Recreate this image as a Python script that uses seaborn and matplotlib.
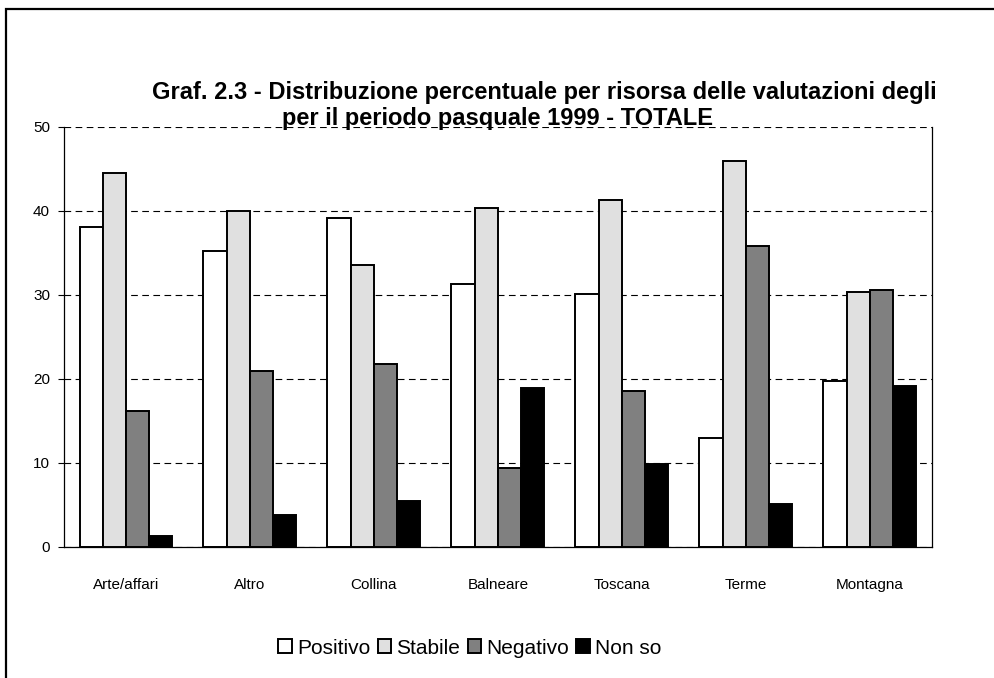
import pandas as pd
import matplotlib.pyplot as plt
import matplotlib.patches as mpatches
import seaborn as sns

# valori (percentuali)
categories = ["Arte/affari", "Altro", "Collina", "Balneare", "Toscana", "Terme", "Montagna"]
series_names = ["Positivo", "Stabile", "Negativo", "Non so"]
positivo = [38.1, 35.2, 39.2, 31.3, 30.1, 13.0, 19.8]
stabile = [44.5, 40.0, 33.6, 40.3, 41.3, 46.0, 30.4]
negativo = [16.2, 20.9, 21.8, 9.4, 18.6, 35.8, 30.6]
non_so = [1.3, 3.8, 5.5, 18.9, 9.9, 5.1, 19.2]
colors = ["#ffffff", "#e0e0e0", "#808080", "#000000"]
y_ticks = [0, 10, 20, 30, 40, 50]

rows = []
for name, vals in zip(series_names, [positivo, stabile, negativo, non_so]):
    for cat, v in zip(categories, vals):
        rows.append({"Risorsa": cat, "Giudizio": name, "Valore": v})
df = pd.DataFrame(rows)

sns.set_style("white")
plt.rcParams['font.family'] = ['Liberation Sans', 'DejaVu Sans']
plt.rcParams['text.color'] = 'black'
plt.rcParams['xtick.color'] = 'black'
plt.rcParams['ytick.color'] = 'black'
plt.rcParams['axes.labelcolor'] = 'black'

fig = plt.figure(figsize=(9.94, 6.78), dpi=100)
ax = fig.add_axes([64 / 994, 1 - 547 / 678, (932 - 64) / 994, (547 - 127) / 678])

sns.barplot(data=df, x="Risorsa", y="Valore", hue="Giudizio", palette=colors,
            saturation=1, edgecolor="black", linewidth=1.4, width=0.75,
            errorbar=None, ax=ax)

ax.set_ylim(0, 50)
ax.set_yticks(y_ticks)
ax.set_xlabel("")
ax.set_ylabel("")
ax.yaxis.grid(True, linestyle=(0, (6, 4)), color="black", linewidth=0.8)
ax.xaxis.grid(False)
ax.set_axisbelow(True)
ax.spines["top"].set_visible(False)
for s in ["left", "right", "bottom"]:
    ax.spines[s].set_color("black")
    ax.spines[s].set_linewidth(0.9)
ax.tick_params(axis="y", length=4, width=0.8, color="black", pad=6, labelsize=11)
ax.tick_params(axis="x", length=0, pad=22, labelsize=11)
ax.yaxis.set_ticks_position("left")

handles, labels = ax.get_legend_handles_labels()
ax.get_legend().remove()
fig.legend(handles, labels, loc="center", bbox_to_anchor=(470 / 994, 1 - 648 / 678),
           ncol=4, frameon=False, fontsize=15, handlelength=0.65, handleheight=0.65,
           handletextpad=0.25, columnspacing=0.35, borderaxespad=0)

fig.text(544 / 994, 1 - 93 / 678,
         "Graf. 2.3 - Distribuzione percentuale per risorsa delle valutazioni degli",
         ha="center", va="center", fontsize=17, fontweight="bold")
fig.text(497 / 994, 1 - 118 / 678, "per il periodo pasquale 1999 - TOTALE",
         ha="center", va="center", fontsize=17, fontweight="bold")

# cornice esterna
fig.patches.append(mpatches.Rectangle((6 / 994, -0.2), 1.2, 1.2 - 9 / 678,
                                      transform=fig.transFigure, fill=False,
                                      edgecolor="black", linewidth=1.6))

fig.savefig("out.png", dpi=100)
